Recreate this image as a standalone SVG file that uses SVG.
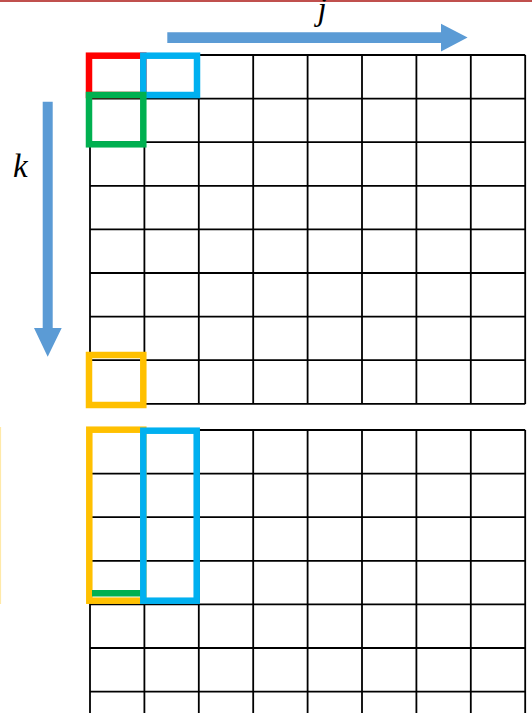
<svg xmlns="http://www.w3.org/2000/svg" width="532" height="713" viewBox="0 0 532 713">
<style>
.g{stroke:#000;stroke-width:1.8;fill:none}
.hl{fill:none;stroke-width:6.5;stroke-linejoin:miter}
.red{stroke:#FF0000}
.blue{stroke:#00B0F0}
.green{stroke:#00B050}
.yellow{stroke:#FFC000}
.arr{fill:#5B9BD5}
.lbl{font-family:"Liberation Serif","Times New Roman",serif;font-style:italic;font-size:33px;fill:#000}
</style>
<rect width="532" height="713" fill="#fff"/>
<line x1="0" y1="1" x2="532" y2="1" stroke="#C0504D" stroke-width="2"/>
<line x1="0.5" y1="427" x2="0.5" y2="604" stroke="#FFE9A8" stroke-width="1.2"/>
<g id="grid-top">
<path class="g" d="M90,55V404M144.4,55V404M198.8,55V404M253.2,55V404M307.6,55V404M362,55V404M416.4,55V404M470.8,55V404M525.2,55V404
M90,55H525.2M90,98.6H525.2M90,142.2H525.2M90,185.8H525.2M90,229.4H525.2M90,273H525.2M90,316.6H525.2M90,360.2H525.2M90,403.8H525.2"/>
</g>
<g id="grid-bottom">
<path class="g" d="M90,430V713M144.4,430V713M198.8,430V713M253.2,430V713M307.6,430V713M362,430V713M416.4,430V713M470.8,430V713M525.2,430V713
M90,430H525.2M90,473.6H525.2M90,517.2H525.2M90,560.8H525.2M90,604.4H525.2M90,648H525.2M90,691.6H525.2"/>
</g>
<g id="red-cell"><rect class="hl red" x="89" y="55.7" width="54.3" height="39.3"/></g>
<g id="blue-cell"><rect class="hl blue" x="143.3" y="55.7" width="53.7" height="39.3"/></g>
<g id="green-cell"><rect class="hl green" x="89" y="95" width="54.3" height="49.3"/></g>
<g id="yellow-cell"><rect class="hl yellow" x="89" y="355" width="54.3" height="50"/></g>
<g id="yellow-column"><rect class="hl yellow" x="89.3" y="429.7" width="54" height="171"/></g>
<g id="green-line"><line x1="92" y1="593.3" x2="141" y2="593.3" stroke="#00B050" stroke-width="6.5"/></g>
<g id="blue-column"><rect class="hl blue" x="143.3" y="430.7" width="53.4" height="170"/></g>
<g id="connectors">
<polygon class="arr" points="167.3,32.2 441,32.2 441,23.8 467.6,37.6 441,51.6 441,43 167.3,43"/>
<polygon class="arr" points="42.7,101.7 52.7,101.7 52.7,328 61.7,328 47.7,356.7 34,328 42.7,328"/>
</g>
<g id="labels">
<text class="lbl" x="322" y="20" text-anchor="middle">j</text>
<text class="lbl" x="13" y="177">k</text>
</g>
</svg>
